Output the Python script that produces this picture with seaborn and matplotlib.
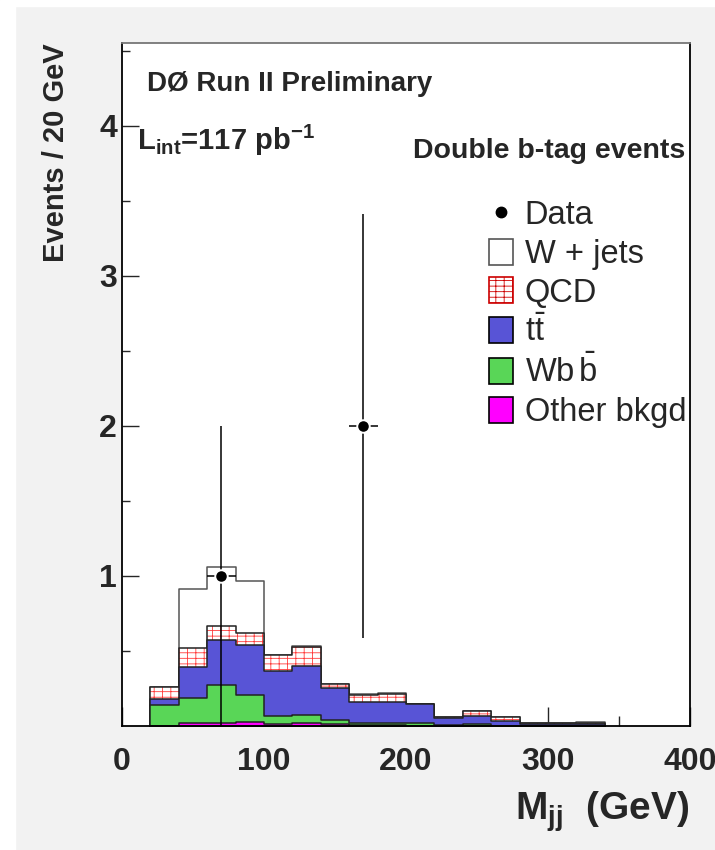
import numpy as np
import matplotlib
matplotlib.use('Agg')
import matplotlib.pyplot as plt
from matplotlib.patches import Patch, Rectangle
from matplotlib.lines import Line2D
import seaborn as sns

# ── DATA ──────────────────────────────────────────────────────────────────────
# M_jj bin edges (GeV), 20 GeV bins
MJJ_EDGES = [20, 40, 60, 80, 100, 120, 140, 160, 180, 200,
             220, 240, 260, 280, 300, 320, 340]

# expected events per bin, one array per process (bottom of the stack first)
OTHER = [0.000, 0.018, 0.020, 0.029, 0.011, 0.018, 0.012, 0.006,
         0.004, 0.002, 0.000, 0.000, 0.000, 0.000, 0.000, 0.000]
WBB   = [0.140, 0.166, 0.253, 0.175, 0.056, 0.058, 0.028, 0.016,
         0.018, 0.016, 0.005, 0.010, 0.003, 0.000, 0.000, 0.002]
TTBAR = [0.038, 0.207, 0.300, 0.338, 0.300, 0.322, 0.212, 0.141,
         0.141, 0.126, 0.050, 0.059, 0.028, 0.016, 0.016, 0.014]
QCD   = [0.080, 0.131, 0.096, 0.080, 0.104, 0.131, 0.025, 0.046,
         0.053, 0.000, 0.002, 0.029, 0.027, 0.001, 0.001, 0.002]
WJETS = [0.002, 0.389, 0.387, 0.347, 0.003, 0.003, 0.002, 0.002,
         0.002, 0.001, 0.001, 0.001, 0.001, 0.001, 0.001, 0.006]

# observed events
DATA_X      = [70, 170]
DATA_Y      = [1, 2]
DATA_ERR_LO = [1.0, 1.414]
DATA_ERR_HI = [1.0, 1.414]
DATA_XERR   = [10, 10]

X_TICKS = [0, 100, 200, 300, 400]
X_MINOR = [50, 150, 250, 350]
Y_TICKS = [1, 2, 3, 4]
Y_MINOR = [0.5, 1.5, 2.5, 3.5, 4.5]

NAMES  = ['Other bkgd', 'Wbb', 'ttbar', 'QCD', 'W + jets']
COLORS = ['#ff00ff', '#59d657', '#5854d6', 'white', 'white']
HATCH  = '---||'

# ── STYLE ─────────────────────────────────────────────────────────────────────
sns.set_style('ticks')
plt.rcParams['font.family'] = ['Liberation Sans', 'DejaVu Sans']
plt.rcParams['mathtext.fontset'] = 'custom'
plt.rcParams['mathtext.rm'] = 'Liberation Sans'
plt.rcParams['mathtext.bf'] = 'Liberation Sans:bold'
plt.rcParams['mathtext.it'] = 'Liberation Sans:italic'
plt.rcParams['hatch.linewidth'] = 0.6

fig = plt.figure(figsize=(7.15, 8.5), dpi=100, facecolor='#f2f2f2')
# white strips left by the original conversion
fig.add_artist(Rectangle((0, 0), 15 / 715, 1, transform=fig.transFigure,
                         color='white', zorder=-5))
fig.add_artist(Rectangle((0, 1 - 6 / 850), 1, 6 / 850, transform=fig.transFigure,
                         color='white', zorder=-5))

ax = fig.add_axes([0.1706, 0.1459, 0.7944, 0.8035])
ax.set_facecolor('white')

# ── STACKED HISTOGRAM ─────────────────────────────────────────────────────────
edges = np.array(MJJ_EDGES, dtype=float)
centers = (edges[:-1] + edges[1:]) / 2
cum = np.cumsum(np.vstack([OTHER, WBB, TTBAR, QCD, WJETS]), axis=0)

# draw from the total downwards, ROOT style
for name, height, face in reversed(list(zip(NAMES, cum, COLORS))):
    if name == 'QCD':
        sns.histplot(x=centers, weights=height, bins=MJJ_EDGES, element='step',
                     fill=True, alpha=1, ax=ax, color='white', facecolor='white',
                     edgecolor='#ff3a3a', linewidth=0, hatch=HATCH)
        sns.histplot(x=centers, weights=height, bins=MJJ_EDGES, element='step',
                     fill=True, alpha=1, ax=ax, color='black', facecolor='none',
                     edgecolor='#222222', linewidth=1.1)
    else:
        edge = '#555555' if name == 'W + jets' else '#222222'
        sns.histplot(x=centers, weights=height, bins=MJJ_EDGES, element='step',
                     fill=True, alpha=1, ax=ax, color=face, facecolor=face,
                     edgecolor=edge, linewidth=1.1)

# data points
ax.errorbar(DATA_X, DATA_Y, xerr=DATA_XERR, yerr=[DATA_ERR_LO, DATA_ERR_HI],
            fmt='o', color='black', ms=9, mec='white', mew=1.4,
            elinewidth=1.1, capsize=0, zorder=10)

# ── AXES ──────────────────────────────────────────────────────────────────────
ax.set_xlim(0, 400)
ax.set_ylim(0, 4.55)
ax.set_xticks(X_TICKS)
ax.set_xticks(X_MINOR, minor=True)
ax.set_yticks(Y_TICKS)
ax.set_yticks(Y_MINOR, minor=True)
ax.tick_params(axis='x', which='major', direction='in', length=14, width=1,
               labelsize=23, pad=15)
ax.tick_params(axis='x', which='minor', direction='in', length=7, width=1)
ax.tick_params(axis='y', which='major', direction='in', length=12.5, width=1,
               labelsize=23, pad=3.5)
ax.tick_params(axis='y', which='minor', direction='in', length=6, width=1)
for lab in ax.get_xticklabels() + ax.get_yticklabels():
    lab.set_fontweight('bold')

for side in ['left', 'right', 'bottom', 'top']:
    ax.spines[side].set_visible(True)
    ax.spines[side].set_linewidth(1.3)
    ax.spines[side].set_color('black')
ax.spines['top'].set_color('#777777')

ax.set_ylabel('Events / 20 GeV', fontsize=21, fontweight='bold', loc='top')
ax.yaxis.set_label_coords(-0.092, 1.0)
ax.set_xlabel(r'$\mathbf{M_{jj}}$  (GeV)', fontsize=28, fontweight='bold', loc='right')
ax.xaxis.set_label_coords(0.998, -0.092)

# ── TEXT ──────────────────────────────────────────────────────────────────────
ax.text(0.044, 0.9297, 'DØ Run II Preliminary', transform=ax.transAxes,
        fontsize=20, fontweight='bold', va='baseline')
ax.text(0.026, 0.8433, r'$\mathbf{L_{int}}$=117 pb$^{\mathbf{-1}}$',
        transform=ax.transAxes, fontsize=21, fontweight='bold', va='baseline')
ax.text(0.991, 0.8316, 'Double b-tag events', transform=ax.transAxes,
        fontsize=20.5, fontweight='bold', ha='right', va='baseline')

# ── LEGEND ────────────────────────────────────────────────────────────────────
handles = [
    Line2D([], [], marker='o', ls='none', color='black', ms=7.5),
    Patch(facecolor='white', edgecolor='#555555', lw=1.2),
    Patch(facecolor='white', edgecolor='#cc0000', hatch=HATCH, lw=1.2),
    Patch(facecolor=COLORS[2], edgecolor='black', lw=1.2),
    Patch(facecolor=COLORS[1], edgecolor='black', lw=1.2),
    Patch(facecolor=COLORS[0], edgecolor='black', lw=1.2),
]
labels = ['Data', 'W + jets', 'QCD', r'$\mathrm{t}\bar{\mathrm{t}}$',
          r'$\mathrm{Wb}\,\bar{\mathrm{b}}$', 'Other bkgd']
ax.legend(handles, labels, loc='upper left',
          bbox_to_anchor=(0.646, (726 - 200) / 683), frameon=False, fontsize=23.5,
          handlelength=0.74, handleheight=0.86, handletextpad=0.36,
          labelspacing=0.22, borderpad=0, borderaxespad=0)

fig.savefig('out.png', dpi=100, facecolor=fig.get_facecolor())
